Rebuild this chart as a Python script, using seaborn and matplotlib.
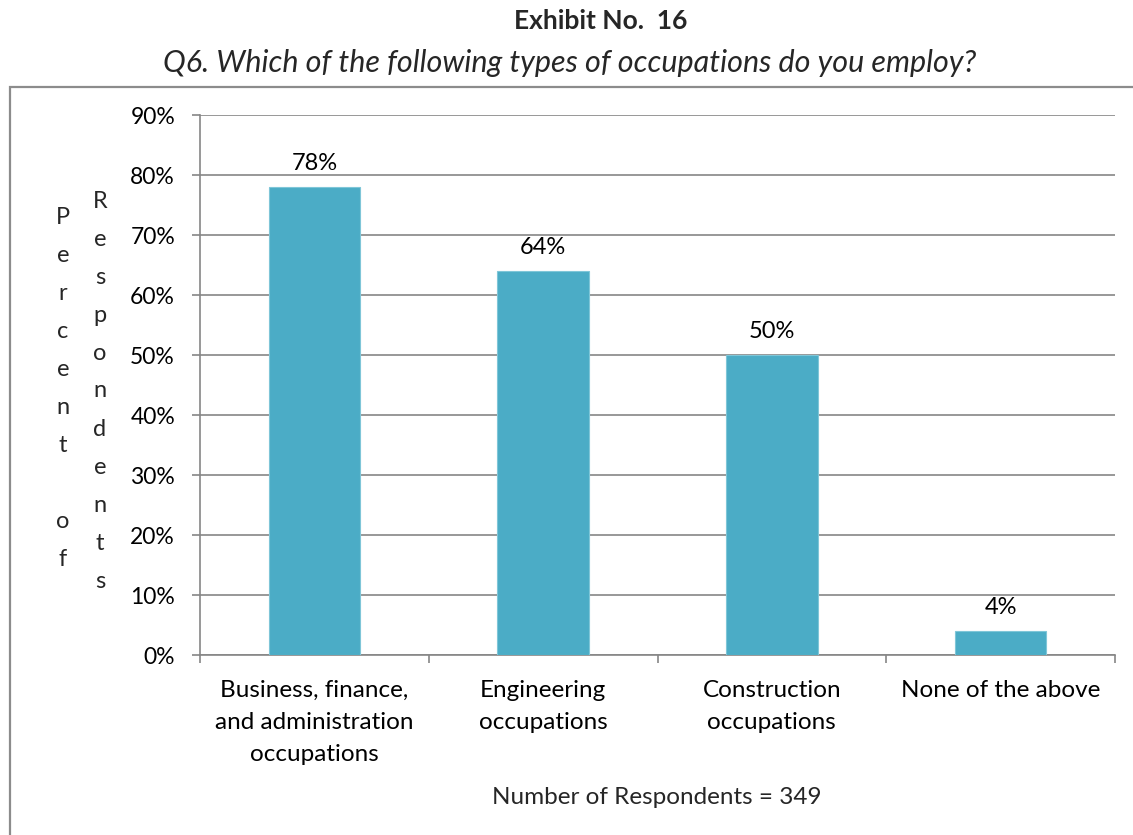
import matplotlib
matplotlib.use("Agg")
import matplotlib.pyplot as plt
import seaborn as sns
import pandas as pd
from matplotlib.patches import Rectangle

# Survey results
categories = [
    "Business, finance,\nand administration\noccupations",
    "Engineering\noccupations",
    "Construction\noccupations",
    "None of the above",
]
percent = [78, 64, 50, 4]
y_ticks = [0, 10, 20, 30, 40, 50, 60, 70, 80, 90]

title = "Exhibit No.  16"
subtitle = "Q6. Which of the following types of occupations do you employ?"
x_label = "Number of Respondents = 349"
y_label_cols = ["Percent of", "Respondents"]

BAR = "#4BACC6"
GRID = "#868686"
FONT = "Lato"

sns.set_theme(style="white")
plt.rcParams["font.family"] = [FONT, "DejaVu Sans"]

W, H = 1133, 835
fig = plt.figure(figsize=(W / 100, H / 100), dpi=100)
fig.patch.set_facecolor("white")

# outer chart frame (runs past the right and bottom edges)
fig.patches.append(Rectangle((10 / W, -0.2), 1.2, (H - 87) / H + 0.2,
                             transform=fig.transFigure, fill=False,
                             edgecolor="#8C8C8C", linewidth=1.6))

ax = fig.add_axes([200 / W, 1 - 655 / H, (1115 - 200) / W, (655 - 115) / H])
df = pd.DataFrame({"category": categories, "percent": percent})
sns.barplot(data=df, x="category", y="percent", ax=ax, color=BAR,
            width=0.4, saturation=1, edgecolor="#7FC6D8", linewidth=0.8,
            zorder=3)

ax.set_ylim(0, 90)
ax.set_xlim(-0.5, len(categories) - 0.5)
ax.set_yticks(y_ticks)
ax.set_yticklabels([f"{v}%" for v in y_ticks])
ax.yaxis.grid(True, color=GRID, linewidth=1.2)
ax.set_axisbelow(True)

# category boundaries get the tick marks, labels sit at the bar centres
ax.set_xticks([i - 0.5 for i in range(len(categories) + 1)])
ax.set_xticklabels([""] * (len(categories) + 1))
ax.set_xticks(range(len(categories)), minor=True)
ax.set_xticklabels(categories, minor=True, fontsize=17.5, linespacing=1.66,
                   color="black")
ax.tick_params(axis="x", which="major", direction="out", length=6,
               width=1.2, color=GRID, bottom=True)
ax.tick_params(axis="x", which="minor", length=0, pad=18)
ax.tick_params(axis="y", direction="out", length=6, width=1.2,
               color=GRID, left=True, labelsize=16.5, labelcolor="black",
               pad=12)
ax.set_xlabel("")
ax.set_ylabel("")

for s in ["top", "right"]:
    ax.spines[s].set_visible(False)
for s in ["left", "bottom"]:
    ax.spines[s].set_color(GRID)
    ax.spines[s].set_linewidth(1.2)

for i, v in enumerate(percent):
    ax.annotate(f"{v}%", (i, v), xytext=(0, 9), textcoords="offset points",
                ha="center", va="bottom", fontsize=17, color="black")

fig.text(601 / W, 1 - 21 / H, title, ha="center", va="center",
         fontsize=19, fontweight="bold")
fig.text(570 / W, 1 - 63 / H, subtitle, ha="center", va="center",
         fontsize=22, style="italic")
fig.text(657 / W, 1 - 797 / H, x_label, ha="center", va="center",
         fontsize=17.5)

# stacked letter-by-letter axis title
for x_px, y_mid, word in zip([63, 100], [388, 391], y_label_cols):
    n = len(word)
    for k, ch in enumerate(word):
        y_px = y_mid + (k - (n - 1) / 2) * 38
        fig.text(x_px / W, 1 - y_px / H, ch, ha="center", va="center",
                 fontsize=17)

fig.savefig("out.png", dpi=100)
